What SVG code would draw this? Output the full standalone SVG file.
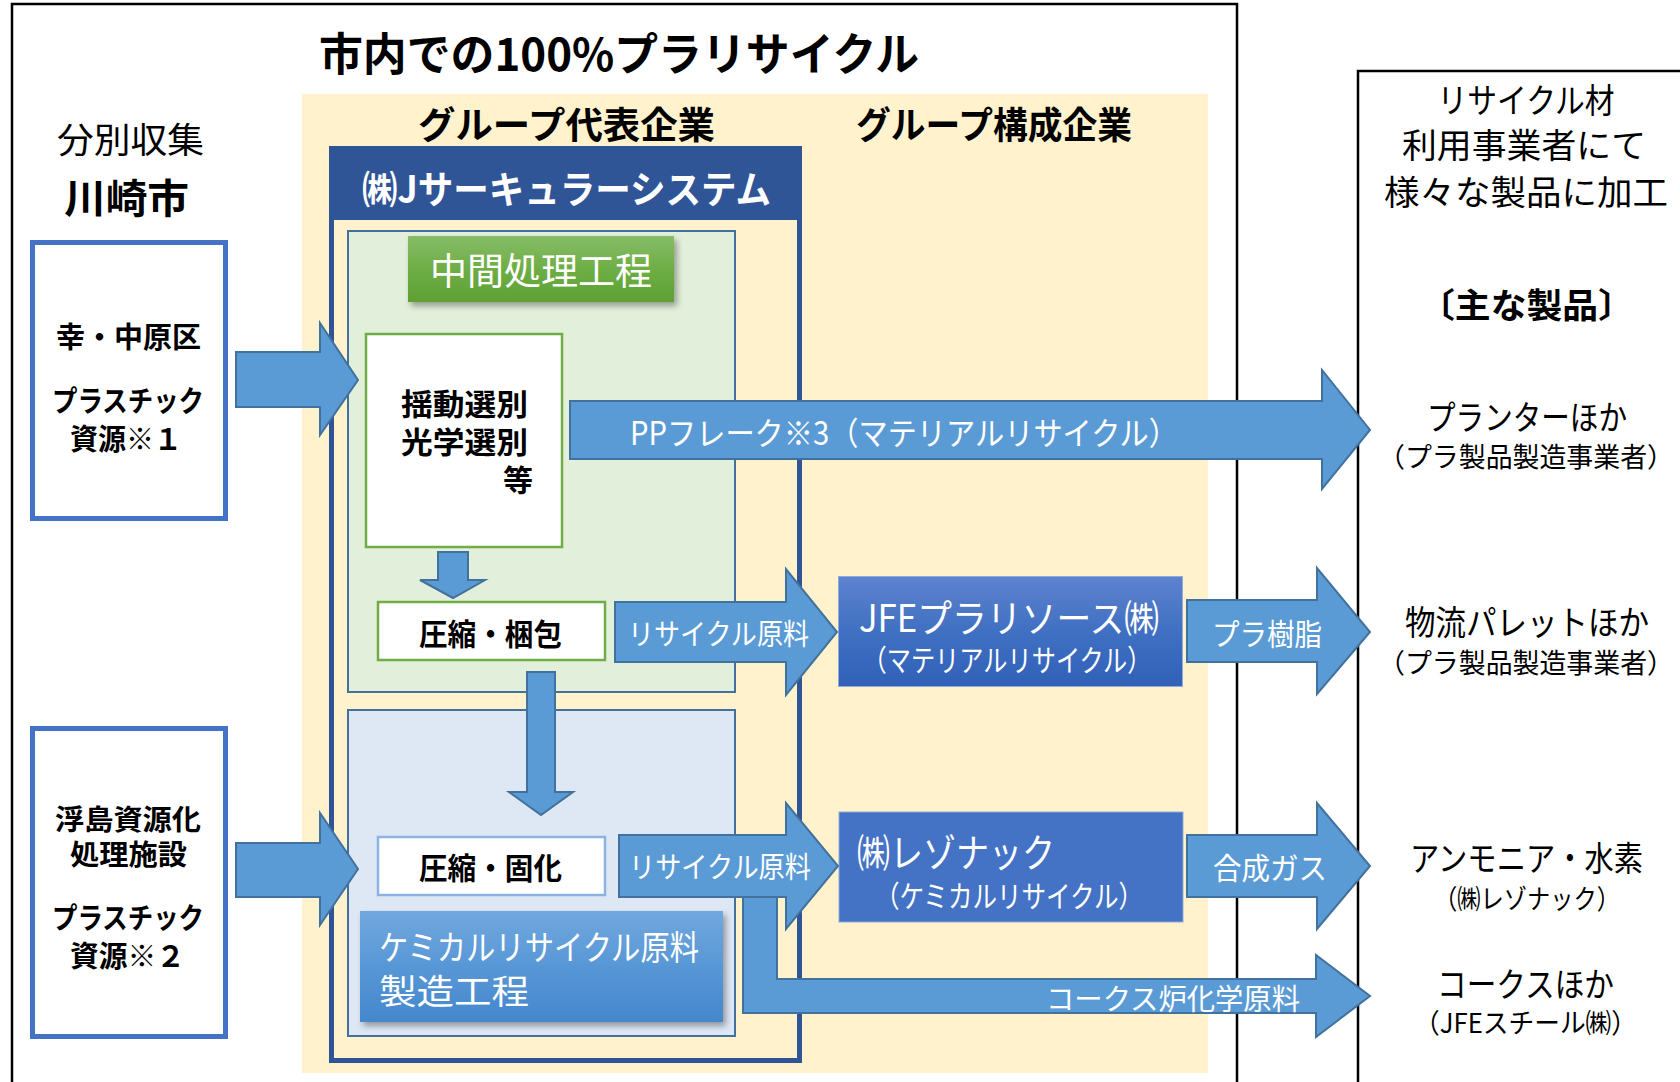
<svg xmlns="http://www.w3.org/2000/svg" width="1680" height="1082" viewBox="0 0 1680 1082">
<defs>
<linearGradient id="gGreen" x1="0" y1="0" x2="0" y2="1"><stop offset="0" stop-color="#86BD68"/><stop offset="0.5" stop-color="#6EAE45"/><stop offset="1" stop-color="#5EA034"/></linearGradient>
<linearGradient id="gChem" x1="0" y1="0" x2="0" y2="1"><stop offset="0" stop-color="#71A8DE"/><stop offset="0.5" stop-color="#5897D6"/><stop offset="1" stop-color="#4587CC"/></linearGradient>
<linearGradient id="gJfe" x1="0" y1="0" x2="0" y2="1"><stop offset="0" stop-color="#5E82CF"/><stop offset="0.5" stop-color="#4070C2"/><stop offset="1" stop-color="#3161B8"/></linearGradient>
<filter id="sh" x="-10%" y="-20%" width="125%" height="150%"><feDropShadow dx="3" dy="4" stdDeviation="3" flood-color="#000" flood-opacity="0.35"/></filter>
</defs>
<style>
text{font-family:"Noto Sans CJK JP","Noto Sans",sans-serif;dominant-baseline:central}
.b{font-weight:700}
.k{fill:#000}
.w{fill:#fff}
.frame{fill:none;stroke:#000;stroke-width:2.5}
.arr{fill:#5B9BD5;stroke:#41719C;stroke-width:2;stroke-linejoin:miter}
.src{fill:#fff;stroke:#4472C4;stroke-width:5}
.proc{fill:#fff;stroke:#70AD47;stroke-width:2.5}
.procb{fill:#fff;stroke:#8DB3E2;stroke-width:2.5}
.m{text-anchor:middle}
</style>

<g id="outer-frame">
<path class="frame" d="M12,1095 V4 H1237 V1095"/>
<text class="b k m" x="619" y="51" font-size="45" textLength="600" lengthAdjust="spacingAndGlyphs">市内での100%プラリサイクル</text>
</g>
<g id="user-frame">
<path class="frame" d="M1358,1095 V71 H1695"/>
<text class="k m" x="1526" y="98" font-size="34" textLength="177" lengthAdjust="spacingAndGlyphs">リサイクル材</text>
<text class="k m" x="1524" y="143" font-size="34" textLength="244" lengthAdjust="spacingAndGlyphs">利用事業者にて</text>
<text class="k m" x="1526" y="190" font-size="34" textLength="284" lengthAdjust="spacingAndGlyphs">様々な製品に加工</text>
<text class="b k m" x="1526.5" y="303" font-size="34" textLength="215" lengthAdjust="spacingAndGlyphs">〔主な製品〕</text>
</g>

<g id="collection">
<text class="k m" x="130.5" y="137" font-size="35" textLength="147" lengthAdjust="spacingAndGlyphs">分別収集</text>
<text class="b k m" x="126.5" y="196" font-size="40" textLength="125" lengthAdjust="spacingAndGlyphs">川崎市</text>
</g>
<g id="src1">
<rect class="src" x="32.5" y="242.5" width="193" height="276"/>
<text class="b k m" x="128.5" y="335" font-size="29" textLength="145" lengthAdjust="spacingAndGlyphs">幸・中原区</text>
<text class="b k m" x="128" y="399" font-size="29" textLength="152" lengthAdjust="spacingAndGlyphs">プラスチック</text>
<text class="b k m" x="126" y="437" font-size="29" textLength="112" lengthAdjust="spacingAndGlyphs">資源※１</text>
</g>
<g id="src2">
<rect class="src" x="32.5" y="728.5" width="193" height="308"/>
<text class="b k m" x="128" y="818" font-size="28" textLength="146" lengthAdjust="spacingAndGlyphs">浮島資源化</text>
<text class="b k m" x="128.5" y="853" font-size="28" textLength="117" lengthAdjust="spacingAndGlyphs">処理施設</text>
<text class="b k m" x="128" y="916" font-size="29" textLength="152" lengthAdjust="spacingAndGlyphs">プラスチック</text>
<text class="b k m" x="127.5" y="954" font-size="29" textLength="115" lengthAdjust="spacingAndGlyphs">資源※２</text>
</g>

<g id="group">
<rect x="302" y="94" width="906" height="979" fill="#FFF2CC"/>
<text class="b k m" x="566.5" y="123" font-size="37" textLength="297" lengthAdjust="spacingAndGlyphs">グループ代表企業</text>
<text class="b k m" x="994" y="123" font-size="37" textLength="276" lengthAdjust="spacingAndGlyphs">グループ構成企業</text>
</g>

<g id="j-circular">
<rect x="331.5" y="148.5" width="468" height="912" fill="none" stroke="#2F5597" stroke-width="5"/>
<rect x="329" y="146" width="473" height="74" fill="#2F5597"/>
<text class="b w m" x="566.5" y="186" font-size="38" textLength="409" lengthAdjust="spacingAndGlyphs">㈱Jサーキュラーシステム</text>
</g>

<g id="intermediate">
<rect x="348" y="231" width="387" height="461" fill="#E2EFDA" stroke="#41719C" stroke-width="2"/>
<g filter="url(#sh)"><rect x="408" y="236" width="266" height="66" fill="url(#gGreen)"/></g>
<text class="w m" x="541" y="269" font-size="37" textLength="222" lengthAdjust="spacingAndGlyphs">中間処理工程</text>
</g>
<g id="chemical">
<rect x="348" y="710" width="387" height="326" fill="#DEE8F5" stroke="#41719C" stroke-width="2"/>
<g filter="url(#sh)"><rect x="360" y="911" width="363" height="111" fill="url(#gChem)"/></g>
<text class="w" x="379" y="945" font-size="34" textLength="320" lengthAdjust="spacingAndGlyphs">ケミカルリサイクル原料</text>
<text class="w" x="379" y="989" font-size="34" textLength="150" lengthAdjust="spacingAndGlyphs">製造工程</text>
</g>
<g id="sorting">
<rect class="proc" x="366" y="334" width="196" height="213"/>
<text class="b k m" x="464.5" y="402" font-size="30" textLength="127" lengthAdjust="spacingAndGlyphs">揺動選別</text>
<text class="b k m" x="464.5" y="440" font-size="30" textLength="127" lengthAdjust="spacingAndGlyphs">光学選別</text>
<text class="b k m" x="518" y="478" font-size="30" textLength="30" lengthAdjust="spacingAndGlyphs">等</text>
</g>
<g id="baling">
<rect class="proc" x="378" y="602" width="227" height="58"/>
<text class="b k m" x="490.5" y="632" font-size="30" textLength="143" lengthAdjust="spacingAndGlyphs">圧縮・梱包</text>
</g>
<g id="solidify">
<rect class="procb" x="378" y="837" width="227" height="58"/>
<text class="b k m" x="490.5" y="866" font-size="30" textLength="143" lengthAdjust="spacingAndGlyphs">圧縮・固化</text>
</g>
<g id="jfe-plaresource">
<rect x="838.5" y="576.5" width="344" height="110" fill="url(#gJfe)" stroke="#8FAADC" stroke-width="1"/>
<text class="w" x="859" y="615" font-size="38" textLength="300" lengthAdjust="spacingAndGlyphs">JFEプラリソース㈱</text>
<text class="w m" x="1007" y="658" font-size="30" textLength="289" lengthAdjust="spacingAndGlyphs">（マテリアルリサイクル）</text>
</g>
<g id="resonac">
<rect x="839" y="812" width="344" height="110" fill="#4472C4" stroke="#8FAADC" stroke-width="1"/>
<text class="w" x="857" y="850" font-size="39" textLength="198" lengthAdjust="spacingAndGlyphs">㈱レゾナック</text>
<text class="w m" x="1009" y="894" font-size="30" textLength="268" lengthAdjust="spacingAndGlyphs">（ケミカルリサイクル）</text>
</g>

<g id="connectors">
<polygon class="arr" points="236,352 320,352 320,323 358,380 320,435 320,407 236,407"/>
<polygon class="arr" points="236,843 320,843 320,813 358,869 320,925 320,897 236,897"/>
<polygon class="arr" points="438,552 468,552 468,580 485,580 453,598 420,580 438,580"/>
<polygon class="arr" points="527,672 555,672 555,792 573,792 541,815 509,792 527,792"/>
<polygon class="arr" points="570,401 1322,401 1322,370 1370,430 1322,489 1322,459 570,459"/>
<text class="w" x="630" y="431" font-size="32" textLength="548" lengthAdjust="spacingAndGlyphs">PPフレーク※3（マテリアルリサイクル）</text>
<polygon class="arr" points="615,602 786,602 786,569 837,632 786,695 786,662 615,662"/>
<text class="w m" x="718.5" y="632" font-size="29" textLength="181" lengthAdjust="spacingAndGlyphs">リサイクル原料</text>
<polygon class="arr" points="1187,600 1317,600 1317,568 1370,632 1317,694 1317,662 1187,662"/>
<text class="w m" x="1267" y="632" font-size="30" textLength="110" lengthAdjust="spacingAndGlyphs">プラ樹脂</text>
<polygon class="arr" points="743,893 777,893 777,979 1316,979 1316,955 1370,996 1316,1037 1316,1013 743,1013"/>
<text class="w m" x="1173" y="997" font-size="29" textLength="254" lengthAdjust="spacingAndGlyphs">コークス炉化学原料</text>
<polygon class="arr" points="619,835 786,835 786,803 838,866 786,929 786,897 619,897"/>
<text class="w m" x="720" y="865" font-size="29" textLength="182" lengthAdjust="spacingAndGlyphs">リサイクル原料</text>
<polygon class="arr" points="1187,835 1317,835 1317,803 1370,866 1317,929 1317,897 1187,897"/>
<text class="w m" x="1270" y="866" font-size="30" textLength="114" lengthAdjust="spacingAndGlyphs">合成ガス</text>
</g>

<g id="product-planter">
<text class="k m" x="1527" y="415" font-size="34" textLength="200" lengthAdjust="spacingAndGlyphs">プランターほか</text>
<text class="k m" x="1526" y="455" font-size="27" textLength="296" lengthAdjust="spacingAndGlyphs">（プラ製品製造事業者）</text>
</g>
<g id="product-pallet">
<text class="k m" x="1527" y="620" font-size="34" textLength="244" lengthAdjust="spacingAndGlyphs">物流パレットほか</text>
<text class="k m" x="1526" y="661" font-size="27" textLength="296" lengthAdjust="spacingAndGlyphs">（プラ製品製造事業者）</text>
</g>
<g id="product-ammonia">
<text class="k m" x="1526.5" y="856" font-size="34" textLength="233" lengthAdjust="spacingAndGlyphs">アンモニア・水素</text>
<text class="k m" x="1527" y="897" font-size="27" textLength="186" lengthAdjust="spacingAndGlyphs">（㈱レゾナック）</text>
</g>
<g id="product-coke">
<text class="k m" x="1525.5" y="982" font-size="34" textLength="177" lengthAdjust="spacingAndGlyphs">コークスほか</text>
<text class="k m" x="1525.5" y="1021" font-size="27" textLength="223" lengthAdjust="spacingAndGlyphs">（JFEスチール㈱）</text>
</g>
</svg>
